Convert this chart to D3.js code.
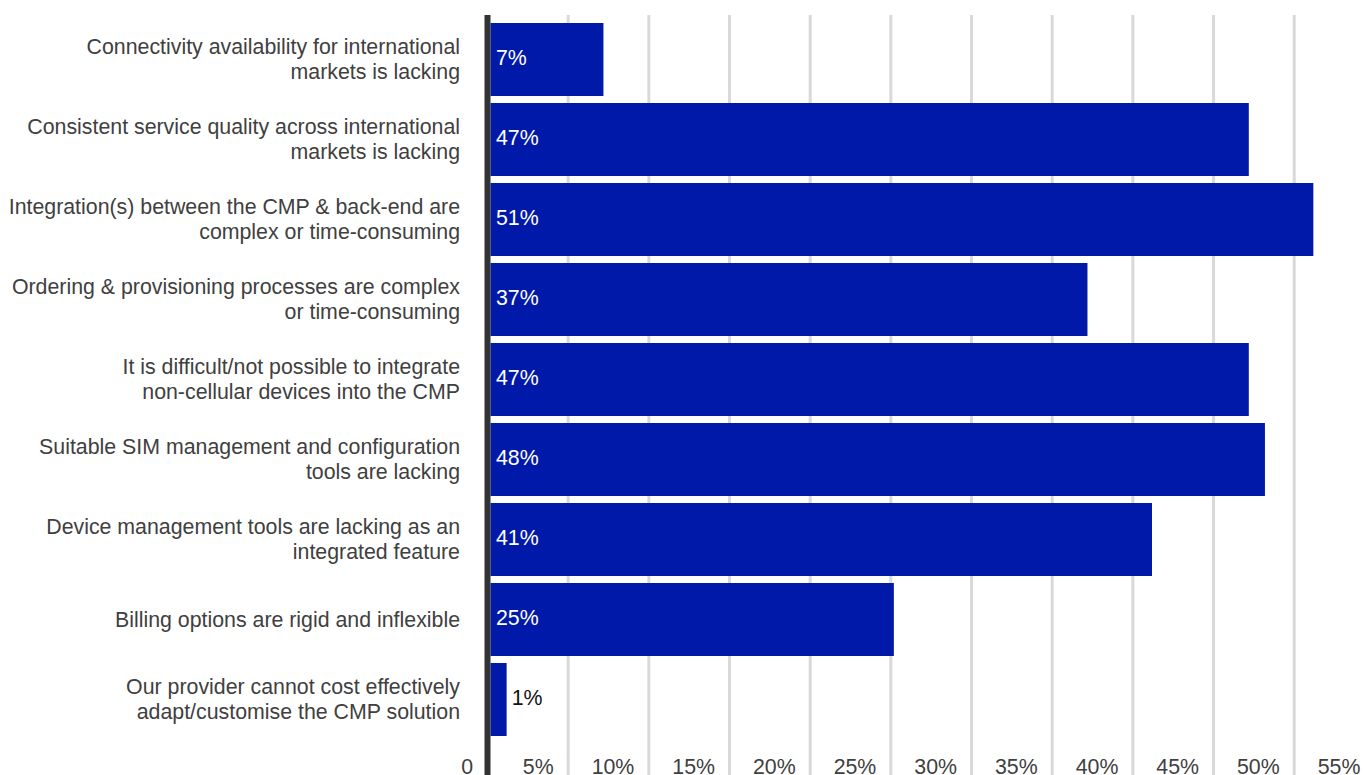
<!DOCTYPE html>
<html>
<head>
<meta charset="utf-8">
<script src="https://cdn.jsdelivr.net/npm/d3@7/dist/d3.min.js"></script>
<style>
  html, body { margin: 0; padding: 0; background: #fff; }
  svg { display: block; font-family: "Liberation Sans", Arial, sans-serif; }
</style>
</head>
<body>
<svg id="chart" width="1365" height="775"></svg>
<script>
// Challenges with the current connectivity management platform (share of respondents)
const categories = [
  "Connectivity availability for international\nmarkets is lacking",
  "Consistent service quality across international\nmarkets is lacking",
  "Integration(s) between the CMP & back-end are\ncomplex or time-consuming",
  "Ordering & provisioning processes are complex\nor time-consuming",
  "It is difficult/not possible to integrate\nnon-cellular devices into the CMP",
  "Suitable SIM management and configuration\ntools are lacking",
  "Device management tools are lacking as an\nintegrated feature",
  "Billing options are rigid and inflexible",
  "Our provider cannot cost effectively\nadapt/customise the CMP solution"
];
const values = [7, 47, 51, 37, 47, 48, 41, 25, 1];
const tickValues = [0, 5, 10, 15, 20, 25, 30, 35, 40, 45, 50, 55];
const tickLabels = ["0", "5%", "10%", "15%", "20%", "25%", "30%", "35%", "40%", "45%", "50%", "55%"];

const svg = d3.select("#chart");
const W = 1365, H = 775;
const textColor = "#404040";
const barColor = "#0019a8";
const fontSize = 21.33;

const axisLeft = 487.5;   // centre of the vertical axis line
const axisWidth = 6;
const plotTop = 15;

const x = d3.scaleLinear().domain([0, 55]).range([axisLeft, axisLeft + 55 * 16.134]);
const y = d3.scaleBand()
  .domain(categories)
  .range([plotTop, plotTop + 80 * (9 - 0.0875 + 2 * 0.1)])
  .paddingInner(0.0875)
  .paddingOuter(0.1);

// vertical gridlines
svg.append("g")
  .selectAll("line")
  .data(tickValues.filter(d => d > 0))
  .join("line")
  .attr("x1", d => x(d)).attr("x2", d => x(d))
  .attr("y1", plotTop).attr("y2", H)
  .attr("stroke", "#d9d9d9")
  .attr("stroke-width", 3);

// bars start just right of the thick axis line
const barStart = axisLeft + axisWidth / 2;
svg.append("g")
  .selectAll("rect")
  .data(values)
  .join("rect")
  .attr("x", barStart)
  .attr("y", (d, i) => y(categories[i]))
  .attr("width", d => x(d) - x(0))
  .attr("height", y.bandwidth())
  .attr("fill", barColor);

// value labels: inside the bar in white, outside in dark when the bar is too short
svg.append("g")
  .selectAll("text")
  .data(values)
  .join("text")
  .attr("x", d => (x(d) - x(0) > 40) ? barStart + 5.5 : barStart + (x(d) - x(0)) + 5)
  .attr("y", (d, i) => y(categories[i]) + y.bandwidth() / 2 + 5.5)
  .attr("font-size", fontSize)
  .attr("fill", d => (x(d) - x(0) > 40) ? "#ffffff" : "#111111")
  .text(d => d + "%");

// axis line
svg.append("line")
  .attr("x1", axisLeft).attr("x2", axisLeft)
  .attr("y1", plotTop).attr("y2", H)
  .attr("stroke", "#333333")
  .attr("stroke-width", axisWidth);

// category labels, right aligned, multi-line
const lineGap = 25;
const catG = svg.append("g");
categories.forEach(c => {
  const lines = c.split("\n");
  const cy = y(c) + y.bandwidth() / 2;
  const t = catG.append("text")
    .attr("text-anchor", "end")
    .attr("font-size", fontSize)
    .attr("fill", textColor);
  lines.forEach((ln, i) => {
    t.append("tspan")
      .attr("x", 460)
      .attr("y", cy + (i - (lines.length - 1) / 2) * lineGap + 7.3)
      .text(ln);
  });
});

// x tick labels, right aligned just left of each gridline
svg.append("g")
  .selectAll("text")
  .data(tickValues)
  .join("text")
  .attr("x", d => x(d) - 14.5)
  .attr("y", 774)
  .attr("text-anchor", "end")
  .attr("font-size", fontSize)
  .attr("fill", textColor)
  .text((d, i) => tickLabels[i]);
</script>
</body>
</html>
